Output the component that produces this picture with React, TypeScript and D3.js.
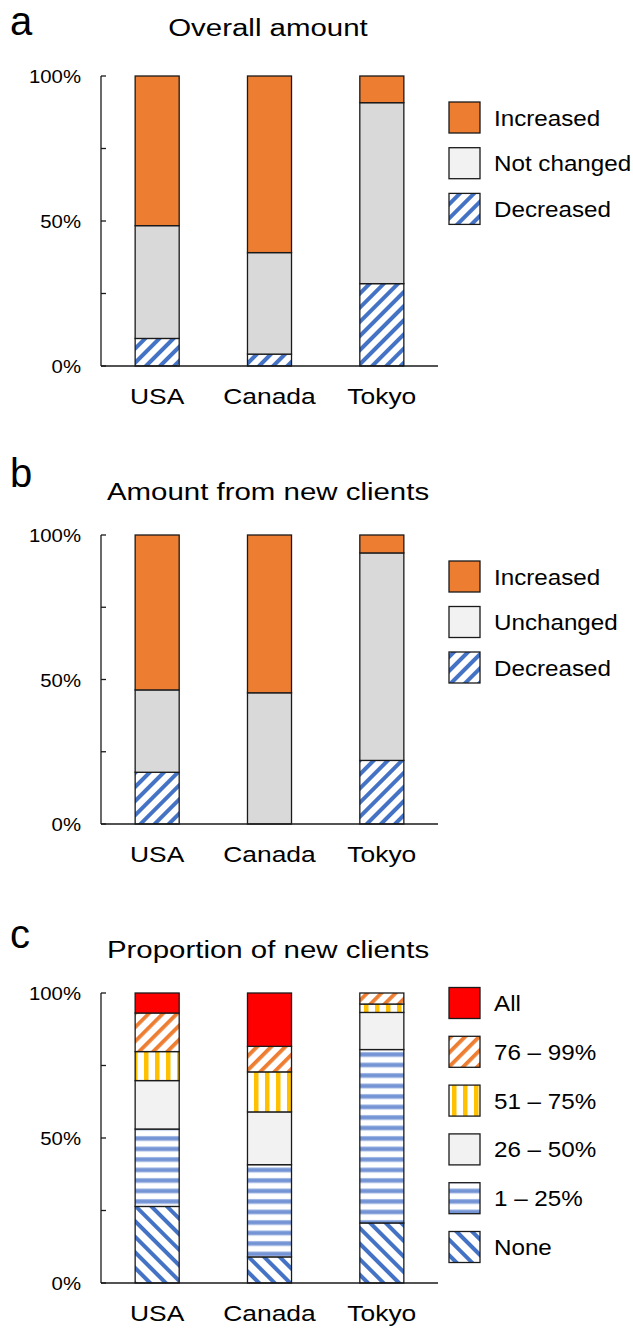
import React from "react";
import * as d3 from "d3";

const categories = ["USA", "Canada", "Tokyo"];

// Panel a: Overall amount (percent of respondents)
const overallDecreased = [9.5, 4.1, 28.4];
const overallNotChanged = [38.9, 35.0, 62.4];
const overallIncreased = [51.6, 60.9, 9.2];

// Panel b: Amount from new clients
const newDecreased = [17.9, 0, 22.0];
const newUnchanged = [28.5, 45.4, 71.8];
const newIncreased = [53.6, 54.6, 6.2];

// Panel c: Proportion of new clients
const propNone = [26.4, 9.0, 20.7];
const prop1to25 = [26.7, 31.8, 59.8];
const prop26to50 = [16.7, 18.2, 12.8];
const prop51to75 = [10.0, 13.8, 2.9];
const prop76to99 = [13.3, 8.8, 3.8];
const propAll = [6.9, 18.4, 0];

const yTicks = [0, 25, 50, 75, 100];
const yLabelTicks = [0, 50, 100];

type Series = { key: string; values: number[]; fill: string; legendFill: string };

type Panel = {
  letter: string;
  title: string;
  yTop: number;
  yBottom: number;
  letterY: number;
  titleY: number;
  legendStart: number;
  legendStep: number;
  series: Series[]; // bottom to top
};

const panels: Panel[] = [
  {
    letter: "a",
    title: "Overall amount",
    yTop: 76,
    yBottom: 366,
    letterY: 35,
    titleY: 36,
    legendStart: 117.5,
    legendStep: 45.7,
    series: [
      { key: "Decreased", values: overallDecreased, fill: "url(#pDec)", legendFill: "url(#pDec)" },
      { key: "Not changed", values: overallNotChanged, fill: "#D9D9D9", legendFill: "#F2F2F2" },
      { key: "Increased", values: overallIncreased, fill: "#ED7D31", legendFill: "#ED7D31" },
    ],
  },
  {
    letter: "b",
    title: "Amount from new clients",
    yTop: 535,
    yBottom: 824,
    letterY: 487,
    titleY: 500,
    legendStart: 576.5,
    legendStep: 45.5,
    series: [
      { key: "Decreased", values: newDecreased, fill: "url(#pDec)", legendFill: "url(#pDec)" },
      { key: "Unchanged", values: newUnchanged, fill: "#D9D9D9", legendFill: "#F2F2F2" },
      { key: "Increased", values: newIncreased, fill: "#ED7D31", legendFill: "#ED7D31" },
    ],
  },
  {
    letter: "c",
    title: "Proportion of new clients",
    yTop: 993,
    yBottom: 1283,
    letterY: 948,
    titleY: 958,
    legendStart: 1003,
    legendStep: 48.8,
    series: [
      { key: "None", values: propNone, fill: "url(#pNone)", legendFill: "url(#pNone)" },
      { key: "1 \u2013 25%", values: prop1to25, fill: "url(#pHoriz)", legendFill: "url(#pHoriz)" },
      { key: "26 \u2013 50%", values: prop26to50, fill: "#F2F2F2", legendFill: "#F2F2F2" },
      { key: "51 \u2013 75%", values: prop51to75, fill: "url(#pVert)", legendFill: "url(#pVert)" },
      { key: "76 \u2013 99%", values: prop76to99, fill: "url(#pOrange)", legendFill: "url(#pOrange)" },
      { key: "All", values: propAll, fill: "#FF0000", legendFill: "#FF0000" },
    ],
  },
];

const FONT = "Liberation Sans, Arial, Helvetica, sans-serif";
const AXIS_LEFT = 101;
const AXIS_RIGHT = 438;
const STROKE = "#1a1a1a";

function T({ x, y, sx = 1, anchor = "start", size, children }: any) {
  return (
    <text
      transform={`translate(${x},${y}) scale(${sx},1)`}
      textAnchor={anchor}
      fontSize={size}
      fontFamily={FONT}
      fill="#000"
    >
      {children}
    </text>
  );
}

function PanelView({ p }: { p: Panel }) {
  const x = d3
    .scaleBand<string>()
    .domain(categories)
    .range([AXIS_LEFT, AXIS_RIGHT])
    .paddingInner(0.608)
    .paddingOuter(0.304);
  const y = d3.scaleLinear().domain([0, 100]).range([p.yBottom, p.yTop]);

  const rows = categories.map((c, i) => {
    const r: any = { cat: c };
    p.series.forEach((s) => (r[s.key] = s.values[i]));
    return r;
  });
  const stacked = d3.stack<any>().keys(p.series.map((s) => s.key))(rows);

  const legendItems = [...p.series].reverse();
  const sw = 31;

  return (
    <g>
      <T x={10} y={p.letterY} size={40}>
        {p.letter}
      </T>
      <T x={268} y={p.titleY} size={23} sx={1.28} anchor="middle">
        {p.title}
      </T>
      {/* bars */}
      {stacked.map((layer, li) => (
        <g key={layer.key}>
          {layer.map((d: any, i: number) =>
            d[1] - d[0] > 0 ? (
              <rect
                key={i}
                x={x(categories[i])}
                width={x.bandwidth()}
                y={y(d[1])}
                height={y(d[0]) - y(d[1])}
                fill={p.series[li].fill}
                stroke={STROKE}
                strokeWidth={1.3}
              />
            ) : null
          )}
        </g>
      ))}
      {/* y axis */}
      <line x1={AXIS_LEFT} x2={AXIS_LEFT} y1={y(100)} y2={y(0)} stroke={STROKE} strokeWidth={1.3} />
      {yTicks.map((t) => (
        <line key={t} x1={AXIS_LEFT} x2={AXIS_LEFT + 5} y1={y(t)} y2={y(t)} stroke={STROKE} strokeWidth={1.3} />
      ))}
      {yLabelTicks.map((t) => (
        <T key={t} x={81} y={y(t) + 7} size={18.5} sx={1.1} anchor="end">
          {`${t}%`}
        </T>
      ))}
      {/* x axis */}
      <line x1={AXIS_LEFT} x2={AXIS_RIGHT} y1={y(0)} y2={y(0)} stroke={STROKE} strokeWidth={1.3} />
      {categories.map((c) => (
        <T key={c} x={(x(c) as number) + x.bandwidth() / 2} y={p.yBottom + 38} size={22} sx={1.2} anchor="middle">
          {c}
        </T>
      ))}
      {/* legend */}
      {legendItems.map((s, i) => {
        const cy = p.legendStart + i * p.legendStep;
        return (
          <g key={s.key}>
            <rect x={449} y={cy - sw / 2} width={sw} height={sw} fill={s.legendFill} stroke={STROKE} strokeWidth={1.3} />
            <T x={494} y={cy + 8} size={22} sx={1.1}>
              {s.key}
            </T>
          </g>
        );
      })}
    </g>
  );
}

export default function App() {
  return (
    <svg
      width={633}
      height={1330}
      style={{ position: "absolute", left: 0, top: 0, background: "#fff" }}
    >
      <defs>
        <pattern id="pDec" patternUnits="userSpaceOnUse" width={10} height={10} patternTransform="rotate(45)">
          <rect width={10} height={10} fill="#fff" />
          <rect width={4} height={10} fill="#4472C4" />
        </pattern>
        <pattern id="pNone" patternUnits="userSpaceOnUse" width={11} height={11} patternTransform="rotate(-45)">
          <rect width={11} height={11} fill="#fff" />
          <rect width={4} height={11} fill="#4472C4" />
        </pattern>
        <pattern id="pOrange" patternUnits="userSpaceOnUse" width={10} height={10} patternTransform="rotate(45)">
          <rect width={10} height={10} fill="#fff" />
          <rect width={3.8} height={10} fill="#ED7D31" />
        </pattern>
        <pattern id="pVert" patternUnits="userSpaceOnUse" width={11} height={11}>
          <rect width={11} height={11} fill="#fff" />
          <rect x={1} width={4.5} height={11} fill="#FFC000" />
        </pattern>
        <pattern id="pHoriz" patternUnits="userSpaceOnUse" width={10.5} height={10.5}>
          <rect width={10.5} height={10.5} fill="#fff" />
          <rect y={2} width={10.5} height={5} fill="#9DB4E3" />
          <rect y={3} width={10.5} height={3} fill="#7393D4" />
        </pattern>
      </defs>
      {panels.map((p) => (
        <PanelView key={p.letter} p={p} />
      ))}
    </svg>
  );
}
